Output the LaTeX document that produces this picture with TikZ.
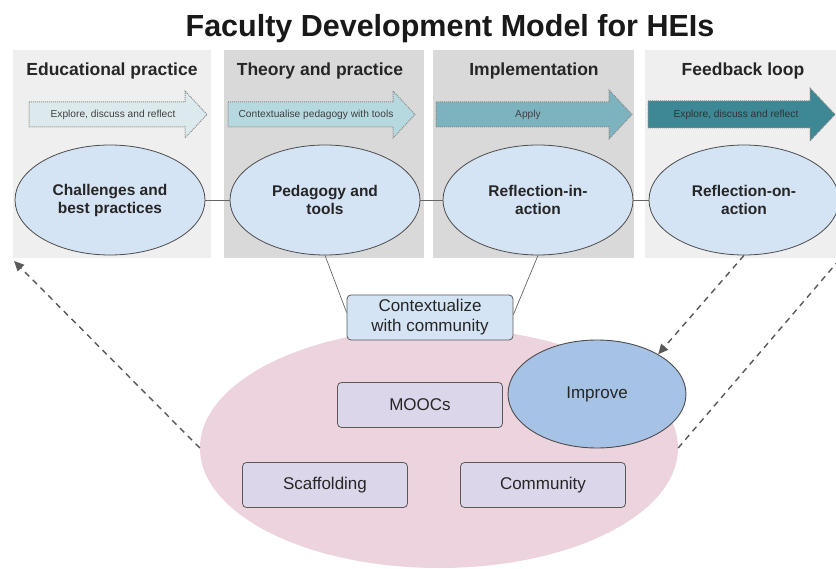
\documentclass[tikz,border=0pt]{standalone}
\usepackage{fontspec}
\setmainfont{Liberation Sans}
\usetikzlibrary{shapes.geometric,arrows.meta}
\definecolor{panellight}{HTML}{EFEFEF}
\definecolor{paneldark}{HTML}{D9D9D9}
\definecolor{stageblue}{HTML}{D5E4F4}
\definecolor{improveblue}{HTML}{A6C3E6}
\definecolor{pinkfield}{HTML}{EDD3DE}
\definecolor{lavender}{HTML}{DCD6EA}
\definecolor{arrowA}{HTML}{DCEAEE}
\definecolor{arrowB}{HTML}{B6D9E0}
\definecolor{arrowC}{HTML}{7DB3BE}
\definecolor{arrowD}{HTML}{3E8794}
\begin{document}
\begin{tikzpicture}[x=1pt,y=-1pt,
    stage/.style={ellipse,draw=black!70,line width=0.8pt,fill=stageblue,
      minimum width=190pt,minimum height=110pt,align=center,text=black!85,
      font=\fontsize{15.5}{18}\selectfont\bfseries},
    heading/.style={anchor=base,text=black!85,font=\fontsize{17.5}{20}\selectfont\bfseries},
    arrowline/.style={draw=black!45,densely dotted,line width=1pt},
    arrowtext/.style={text=black!75,font=\fontsize{10.2}{12}\selectfont},
    toolbox/.style={draw=black!65,line width=0.8pt,rounded corners=4pt,fill=lavender,
      minimum width=165pt,minimum height=45pt,text=black!85,
      font=\fontsize{17}{20}\selectfont},
    link/.style={draw=black!60,line width=0.7pt},
    loop/.style={draw=black!65,line width=1.4pt,dash pattern=on 6pt off 5pt}]

    \clip (0,0) rectangle (836,569);
    \fill[white] (0,0) rectangle (836,569);

    \node[anchor=base,text=black!90,font=\fontsize{30.5}{34}\selectfont\bfseries] (title) at (450,37) {Faculty Development Model for HEIs};

    \fill[panellight] (13,50) rectangle (211,258);
    \fill[paneldark] (224,50) rectangle (424,258);
    \fill[paneldark] (433,50) rectangle (634,258);
    \fill[panellight] (645,50) rectangle (850,258);

    \node[heading] (h1) at (112,76) {Educational practice};
    \node[heading] (h2) at (320,76) {Theory and practice};
    \node[heading] (h3) at (534,76) {Implementation};
    \node[heading] (h4) at (743,76) {Feedback loop};

    \draw[arrowline,fill=arrowA] (29,102) -- (185,102) -- (185,91) -- (207,114.5) -- (185,138) -- (185,127) -- (29,127) -- cycle;
    \node[arrowtext] (a1) at (113,114.5) {Explore, discuss and reflect};

    \draw[arrowline,fill=arrowB] (228,102) -- (393,102) -- (393,91) -- (415,114.5) -- (393,138) -- (393,127) -- (228,127) -- cycle;
    \node[arrowtext] (a2) at (316,114.5) {Contextualise pedagogy with tools};

    \draw[arrowline,fill=arrowC] (436,102) -- (609,102) -- (609,90) -- (632,114.5) -- (609,139) -- (609,127) -- (436,127) -- cycle;
    \node[arrowtext] (a3) at (528,114.5) {Apply};

    \draw[arrowline,fill=arrowD] (648,101) -- (810,101) -- (810,88) -- (835,114.5) -- (810,141) -- (810,128) -- (648,128) -- cycle;
    \node[arrowtext,text=black!80] (a4) at (736,114.5) {Explore, discuss and reflect};

    \node[stage] (e1) at (110,200) {Challenges and\\best practices};
    \node[stage] (e2) at (325,200) {Pedagogy and\\tools};
    \node[stage] (e3) at (538,200) {Reflection-in-\\action};
    \node[stage] (e4) at (744,200) {Reflection-on-\\action};

    \draw[link] (e1) -- (e2);
    \draw[link] (e2) -- (e3);
    \draw[link] (e3) -- (e4);

    \node[ellipse,fill=pinkfield,minimum width=478pt,minimum height=240pt] (field) at (439,448) {};

    \node[toolbox,fill=stageblue,minimum width=166pt,align=center] (ctx) at (430,317.5) {Contextualize\\with community};
    \draw[link] (e2.south) -- ([yshift=5pt]ctx.west);
    \draw[link] (e3.south) -- ([yshift=3pt]ctx.east);

    \node[toolbox] (moocs) at (420,405) {MOOCs};
    \node[toolbox] (scaf) at (325,485) {Scaffolding};
    \node[toolbox] (comm) at (543,485) {Community};

    \node[ellipse,draw=black!70,line width=0.9pt,fill=improveblue,minimum width=178pt,minimum height=108pt,
      text=black!85,font=\fontsize{17}{20}\selectfont] (imp) at (597,394) {Improve};

    \coordinate (back) at (14,261);
    \coordinate (out) at (852,245);
    \draw[loop,-{Triangle[length=10pt,width=9pt]}] (field.west) -- (back);
    \draw[loop,-{Triangle[length=10pt,width=9pt]}] (e4.south) -- (imp.33);
    \draw[loop] (field.east) -- (out);

\end{tikzpicture}
\end{document}
